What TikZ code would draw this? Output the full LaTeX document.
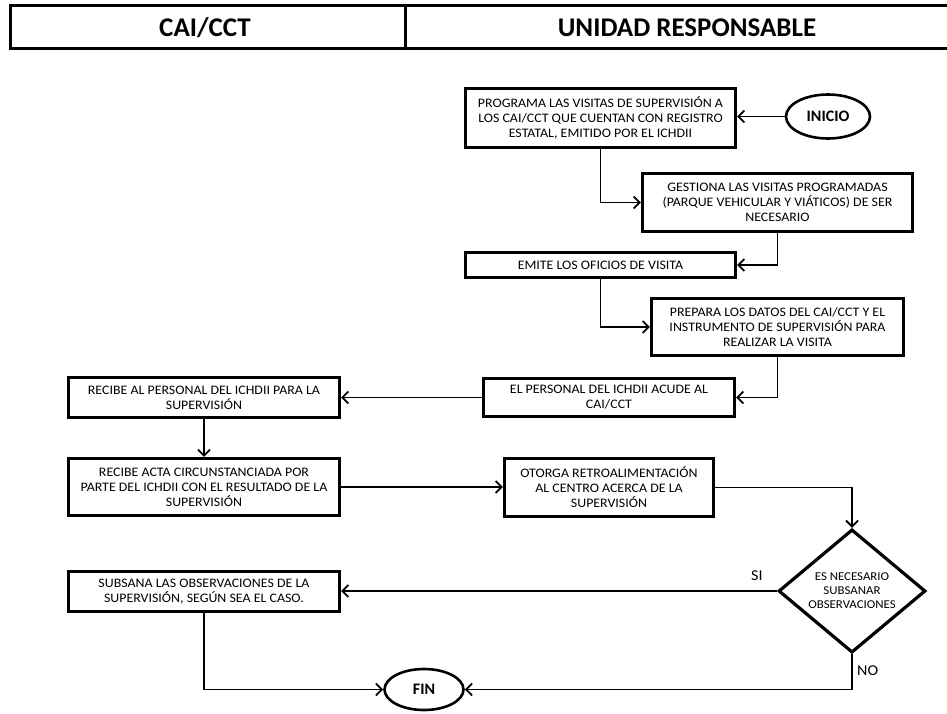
\documentclass[tikz,border=0pt]{standalone}
\usepackage{fontspec}
\setmainfont{Carlito}
\newfontfamily\boxfont[FakeStretch=1.07]{Carlito}
\usetikzlibrary{shapes.geometric,arrows.meta}

\begin{document}
\begin{tikzpicture}[x=1pt,y=-1pt,
  box/.style={draw, rectangle, line width=3.2pt, align=center, inner sep=0pt,
    font=\boxfont\fontsize{13}{15}\selectfont},
  term/.style={draw, ellipse, line width=2.6pt, inner sep=0pt,
    font=\bfseries\fontsize{16}{18}\selectfont},
  decision/.style={draw, diamond, line width=3.2pt, inner sep=0pt, align=center,
    minimum width=147pt, minimum height=123pt,
    font=\boxfont\fontsize{12}{14}\selectfont},
  flow/.style={line width=1.8pt, -{Straight Barb[length=6pt,width=12pt,line width=1.8pt]}},
  headtxt/.style={font=\bfseries\fontsize{27}{29}\selectfont, anchor=base, inner sep=0pt},
  tag/.style={font=\boxfont\fontsize{15}{17}\selectfont, inner sep=0pt, anchor=base west}
]
\useasboundingbox (0,0) rectangle (947,713);

% header row
\draw[line width=3pt] (10,5.5) rectangle (960,48);
\draw[line width=3pt] (405,5.5) -- (405,48);
\node[headtxt] (hleft)  at (205,36.5) {CAI/CCT};
\node[headtxt] (hright) at (687,36.5) {UNIDAD RESPONSABLE};

% steps
\node[term, minimum width=84pt, minimum height=44pt] (inicio) at (828,116.5) {INICIO};

\node[box, minimum width=270pt, minimum height=59pt] (b1) at (600.5,118)
  {PROGRAMA LAS VISITAS DE SUPERVISIÓN A\\LOS CAI/CCT QUE CUENTAN CON REGISTRO\\ESTATAL, EMITIDO POR EL ICHDII};

\node[box, minimum width=270pt, minimum height=58pt] (b2) at (777.5,202.5)
  {GESTIONA LAS VISITAS PROGRAMADAS\\(PARQUE VEHICULAR Y VIÁTICOS) DE SER\\NECESARIO};

\node[box, minimum width=270pt, minimum height=25pt] (b3) at (600.5,265)
  {EMITE LOS OFICIOS DE VISITA};

\node[box, minimum width=252pt, minimum height=57pt] (b4) at (777.5,327)
  {PREPARA LOS DATOS DEL CAI/CCT Y EL\\INSTRUMENTO DE SUPERVISIÓN PARA\\REALIZAR LA VISITA};

\node[box, minimum width=251pt, minimum height=38pt] (b5) at (609,397.5)
  {EL PERSONAL DEL ICHDII ACUDE AL\\CAI/CCT};

\node[box, minimum width=271pt, minimum height=40pt] (b6) at (204,397.5)
  {RECIBE AL PERSONAL DEL ICHDII PARA LA\\SUPERVISIÓN};

\node[box, minimum width=271pt, minimum height=57pt] (b7) at (204,487)
  {RECIBE ACTA CIRCUNSTANCIADA POR\\PARTE DEL ICHDII CON EL RESULTADO DE LA\\SUPERVISIÓN};

\node[box, minimum width=209pt, minimum height=58pt] (b8) at (609,487.5)
  {OTORGA RETROALIMENTACIÓN\\AL CENTRO ACERCA DE LA\\SUPERVISIÓN};

\node[decision] (dec) at (852,591) {ES NECESARIO\\SUBSANAR\\OBSERVACIONES};

\node[box, minimum width=271pt, minimum height=40pt] (b9) at (204,591.5)
  {SUBSANA LAS OBSERVACIONES DE LA\\SUPERVISIÓN, SEGÚN SEA EL CASO.};

\node[term, minimum width=79pt, minimum height=41pt] (fin) at (424,689.5) {FIN};

% connectors
\draw[flow] (inicio.west) -- (b1.east |- inicio.west);
\draw[flow] (b1.south) |- (b2.west);
\draw[flow] (b2.south) |- (b3.east);
\draw[flow] (b3.south) |- (b4.west);
\draw[flow] (b4.south) |- (b5.east);
\draw[flow] (b5.west) -- (b6.east |- b5.west);
\draw[flow] (b6.south) -- (b7.north);
\draw[flow] (b7.east) -- (b8.west |- b7.east);
\draw[flow] (b8.east) -| (dec.north);
\draw[flow] (dec.west) -- (b9.east |- dec.west);
\draw[flow] (b9.south) |- (fin.west);
\draw[flow] (dec.south) |- (fin.east);

% branch labels
\node[tag] (si) at (751,580) {SI};
\node[tag] (no) at (857,675) {NO};
\end{tikzpicture}
\end{document}
